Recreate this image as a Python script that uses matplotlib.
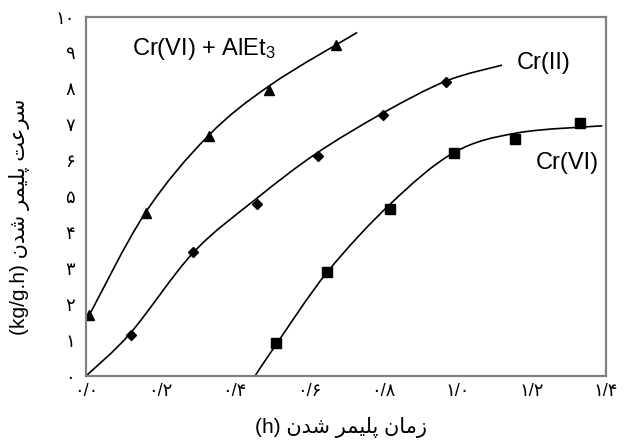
import matplotlib
matplotlib.use("Agg")
import matplotlib.pyplot as plt
from matplotlib.path import Path
from matplotlib.patches import PathPatch

plt.rcParams["mathtext.fontset"] = "custom"
plt.rcParams["mathtext.rm"] = "Liberation Sans"
plt.rcParams["mathtext.it"] = "Liberation Sans"

# measured points
t_al = [0.008, 0.162, 0.33, 0.492, 0.673]
r_al = [1.7, 4.55, 6.69, 7.97, 9.22]
t_cr2 = [0.12, 0.289, 0.459, 0.624, 0.8, 0.97]
r_cr2 = [1.15, 3.45, 4.79, 6.13, 7.27, 8.2]
t_cr6 = [0.511, 0.649, 0.819, 0.992, 1.154, 1.33]
r_cr6 = [0.92, 2.9, 4.65, 6.21, 6.6, 7.05]

# fitted curves, a few points
ct_al = [0.005, 0.16, 0.33, 0.5, 0.73]
cr_al = [1.62, 4.55, 6.7, 8.13, 9.57]
ct_cr2 = [0.0, 0.12, 0.29, 0.46, 0.62, 0.8, 0.97, 1.12]
cr_cr2 = [0.0, 1.2, 3.45, 4.95, 6.2, 7.33, 8.22, 8.66]
ct_cr6 = [0.455, 0.51, 0.65, 0.82, 0.99, 1.16, 1.39]
cr_cr6 = [0.0, 0.85, 2.9, 4.8, 6.22, 6.77, 6.97]

x_ticks = [0.0, 0.2, 0.4, 0.6, 0.8, 1.0, 1.2, 1.4]
x_ticklabels = ["۰/۰", "۰/۲", "۰/۴", "۰/۶", "۰/۸", "۱/۰", "۱/۲", "۱/۴"]
y_ticks = list(range(11))
y_ticklabels = ["۰", "۱", "۲", "۳", "۴", "۵", "۶", "۷", "۸", "۹", "۱۰"]

# persian text already shaped and in visual order (matplotlib has no bidi)
w_zaman = "\uFEE5\uFE8E\uFEE3\uFEAF"
w_polymer = "\uFEAE\uFEE4\uFBFF\uFEE0\uFB58"
w_shodan = "\uFEE5\uFEAA\uFEB7"
w_sorat = "\uFE96\uFECB\uFEAE\uFEB3"
xlabel = "(h) " + w_shodan + " " + w_polymer + " " + w_zaman
ylabel = "(kg/g.h) " + w_shodan + " " + w_polymer + " " + w_sorat

fam = ["Liberation Sans", "DejaVu Sans"]


def smooth_curve(xs, ys):
    # catmull-rom through the read points, drawn as bezier segments
    pts = list(zip(xs, ys))
    verts = [pts[0]]
    codes = [Path.MOVETO]
    n = len(pts)
    for i in range(n - 1):
        p0 = pts[max(i - 1, 0)]
        p1 = pts[i]
        p2 = pts[i + 1]
        p3 = pts[min(i + 2, n - 1)]
        c1 = (p1[0] + (p2[0] - p0[0]) / 6, p1[1] + (p2[1] - p0[1]) / 6)
        c2 = (p2[0] - (p3[0] - p1[0]) / 6, p2[1] - (p3[1] - p1[1]) / 6)
        verts += [c1, c2, p2]
        codes += [Path.CURVE4] * 3
    return Path(verts, codes)


fig = plt.figure(figsize=(6.3, 4.48), dpi=100)
ax = fig.add_axes([0.1365, 0.1607, 0.8255, 0.8013])

lw = 1.2
for cx, cy in [(ct_al, cr_al), (ct_cr2, cr_cr2), (ct_cr6, cr_cr6)]:
    ax.add_patch(PathPatch(smooth_curve(cx, cy), fc="none", ec="black", lw=lw))
ax.plot(t_al, r_al, "^", color="black", ms=7.5, ls="none")
ax.plot(t_cr2, r_cr2, "D", color="black", ms=5.5, ls="none")
ax.plot(t_cr6, r_cr6, "s", color="black", ms=7, ls="none")

ax.text(0.125, 9.1, "Cr(VI) + AlEt$_3$", fontsize=17, family=fam, va="center")
ax.text(1.16, 8.72, "Cr(II)", fontsize=17, family=fam, va="center")
ax.text(1.21, 5.93, "Cr(VI)", fontsize=17, family=fam, va="center")

ax.set_xlim(0, 1.4)
ax.set_ylim(0, 10)
ax.set_xticks(x_ticks)
ax.set_xticklabels(x_ticklabels, family=fam, fontsize=13)
ax.set_yticks(y_ticks)
ax.set_yticklabels(y_ticklabels, family=fam, fontsize=13)
ax.tick_params(axis="x", length=0, pad=5)
ax.tick_params(axis="y", length=0, pad=8)
for s in ax.spines.values():
    s.set_color("#808080")
    s.set_linewidth(1.6)

ax.set_xlabel(xlabel, family=fam, fontsize=15)
ax.set_ylabel(ylabel, family=fam, fontsize=15)
ax.xaxis.set_label_coords(0.49, -0.115)
ax.yaxis.set_label_coords(-0.108, 0.443)

fig.savefig("out.png", dpi=100)
